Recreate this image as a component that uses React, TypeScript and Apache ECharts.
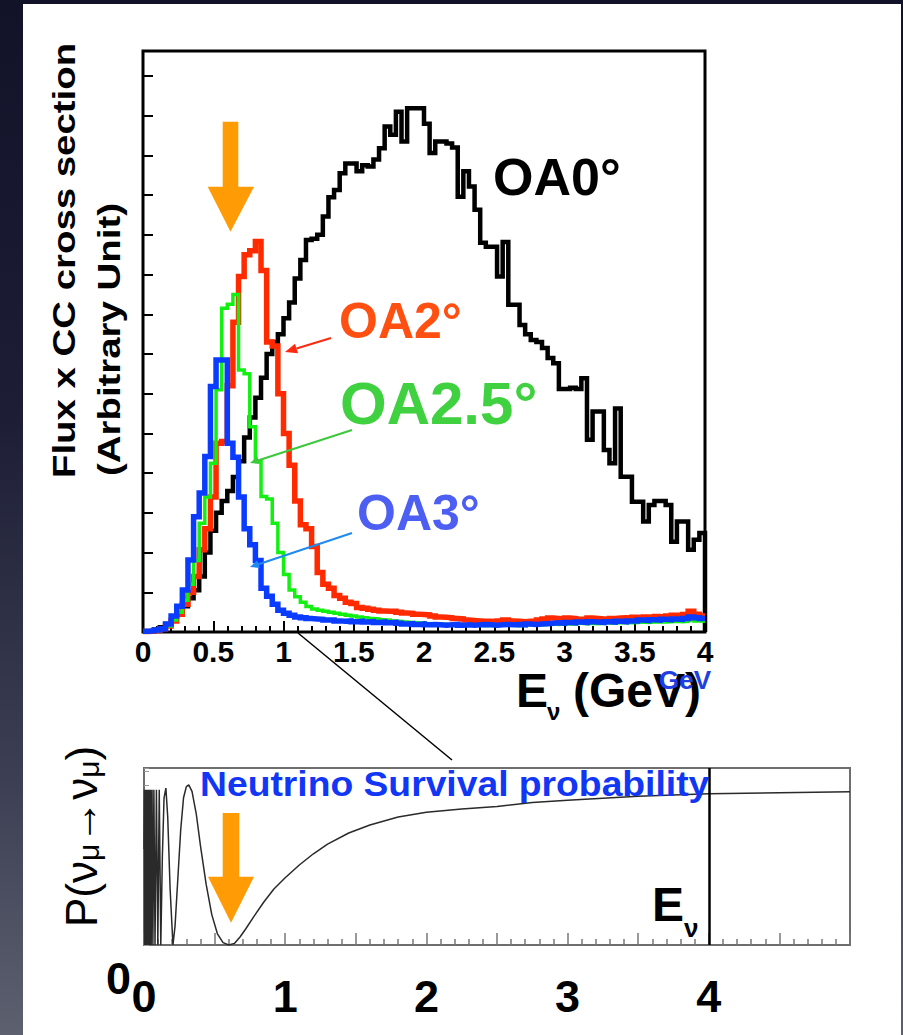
import React, { useEffect, useRef } from 'react';
import * as echarts from 'echarts';

// ---------- data ----------
const BIN_WIDTH = 0.04; // GeV per histogram bin
const E_MAX = 4.0;

// Flux x CC cross section, arbitrary units, one value per 0.04 GeV bin starting at 0
const oa0: number[] = [
  0.02, 0.03, 0.06, 0.12, 0.2, 0.32, 0.48, 0.65, 0.85, 1.05,
  1.4, 2.0, 2.55, 3.0, 3.3, 3.55, 3.9, 4.3, 4.9, 5.4,
  5.9, 6.4, 7.0, 7.3, 7.5, 7.9, 8.3, 8.9, 9.37, 9.87,
  9.9, 10.0, 10.46, 10.95, 11.13, 11.55, 11.8, 11.8, 11.6, 11.75,
  11.72, 11.9, 12.18, 12.73, 12.52, 13.1, 12.35, 13.19, 13.19, 13.19,
  12.8, 12.06, 12.35, 12.35, 12.3, 12.2, 10.96, 11.6, 11.22, 10.63,
  9.8, 9.7, 9.7, 8.95, 9.82, 8.24, 8.24, 7.73, 7.5, 7.35,
  7.3, 7.15, 6.9, 6.77, 6.12, 6.12, 6.15, 6.12, 6.39, 4.84,
  5.55, 5.55, 4.58, 4.25, 5.63, 3.91, 3.91, 3.28, 3.28, 2.78,
  3.2, 3.3, 3.3, 3.2, 2.27, 2.78, 2.78, 2.07, 2.32, 2.49,
];
const oa2: number[] = [
  0.01, 0.02, 0.04, 0.08, 0.15, 0.28, 0.45, 0.7, 1.0, 1.4,
  2.07, 2.6, 3.4, 4.75, 4.8, 6.2, 7.8, 8.95, 9.5, 9.6,
  9.83, 9.1, 7.3, 7.2, 6.0, 5.0, 4.2, 3.3, 2.7, 2.6,
  2.15, 1.5, 1.2, 1.1, 0.92, 0.85, 0.75, 0.72, 0.62, 0.6,
  0.57, 0.55, 0.53, 0.52, 0.52, 0.5, 0.48, 0.47, 0.45, 0.44,
  0.43, 0.4, 0.38, 0.37, 0.36, 0.34, 0.33, 0.3, 0.29, 0.28,
  0.27, 0.27, 0.26, 0.28, 0.3, 0.28, 0.27, 0.26, 0.27, 0.28,
  0.3, 0.33, 0.35, 0.34, 0.33, 0.35, 0.34, 0.32, 0.33, 0.35,
  0.34, 0.33, 0.32, 0.34, 0.35, 0.36, 0.35, 0.37, 0.36, 0.38,
  0.37, 0.39, 0.38, 0.4, 0.42, 0.4, 0.44, 0.52, 0.45, 0.4,
];
const oa25: number[] = [
  0.02, 0.03, 0.04, 0.07, 0.15, 0.3, 0.5, 0.8, 1.2, 1.8,
  2.74, 3.4, 4.25, 6.1, 8.15, 8.25, 8.5, 6.6, 6.5, 5.17,
  4.3, 3.41, 3.35, 2.74, 2.0, 1.45, 1.06, 0.89, 0.75, 0.64,
  0.58, 0.55, 0.52, 0.5, 0.47, 0.45, 0.42, 0.4, 0.38, 0.36,
  0.34, 0.33, 0.31, 0.3, 0.28, 0.27, 0.25, 0.24, 0.23, 0.22,
  0.21, 0.2, 0.19, 0.2, 0.18, 0.19, 0.18, 0.17, 0.18, 0.17,
  0.16, 0.17, 0.16, 0.17, 0.18, 0.17, 0.16, 0.17, 0.18, 0.17,
  0.18, 0.19, 0.2, 0.19, 0.2, 0.21, 0.2, 0.22, 0.21, 0.22,
  0.21, 0.22, 0.23, 0.22, 0.23, 0.24, 0.23, 0.24, 0.25, 0.24,
  0.25, 0.26, 0.25, 0.26, 0.27, 0.26, 0.27, 0.3, 0.28, 0.27,
];
const oa3: number[] = [
  0.02, 0.03, 0.05, 0.08, 0.2, 0.4, 0.65, 1.06, 1.81, 2.9,
  3.5, 4.42, 6.18, 6.85, 6.85, 4.75, 4.4, 3.4, 2.6, 2.2,
  1.8, 1.1, 0.9, 0.7, 0.55, 0.47, 0.42, 0.38, 0.36, 0.34,
  0.33, 0.32, 0.3, 0.3, 0.28, 0.27, 0.28, 0.26, 0.27, 0.25,
  0.26, 0.24, 0.25, 0.23, 0.24, 0.22, 0.2, 0.21, 0.19, 0.2,
  0.18, 0.19, 0.18, 0.17, 0.18, 0.19, 0.17, 0.18, 0.17, 0.18,
  0.19, 0.18, 0.17, 0.18, 0.19, 0.18, 0.19, 0.18, 0.2, 0.19,
  0.2, 0.21, 0.22, 0.23, 0.22, 0.24, 0.23, 0.25, 0.24, 0.26,
  0.25, 0.24, 0.26, 0.25, 0.27, 0.26, 0.28, 0.28, 0.3, 0.29,
  0.31, 0.3, 0.32, 0.31, 0.33, 0.32, 0.34, 0.38, 0.36, 0.34,
];

// Neutrino survival probability P(numu -> numu) vs E (GeV)
const survE: number[] = [
  0.0, 0.003, 0.005, 0.007, 0.009, 0.011, 0.013, 0.015, 0.017, 0.019,
  0.021, 0.024, 0.027, 0.03, 0.033, 0.037, 0.041, 0.046, 0.051, 0.057,
  0.063, 0.07, 0.078, 0.088, 0.098, 0.108, 0.119, 0.13, 0.142, 0.155,
  0.168, 0.185, 0.205, 0.22, 0.24, 0.26, 0.28, 0.3, 0.317, 0.34,
  0.37, 0.4, 0.44, 0.48, 0.52, 0.56, 0.6, 0.64, 0.68, 0.72,
  0.78, 0.85, 0.92, 1.0, 1.1, 1.2, 1.3, 1.45, 1.6, 1.8,
  2.0, 2.25, 2.5, 2.75, 3.0, 3.5, 4.0, 4.5, 5.0,
];
const survP: number[] = [
  0.6, 0.97, 0.0, 0.97, 0.0, 0.97, 0.0, 0.97, 0.0, 0.97,
  0.0, 0.97, 0.0, 0.97, 0.0, 0.97, 0.0, 0.97, 0.0, 0.97,
  0.0, 0.97, 0.0, 0.97, 0.0, 0.97, 0.0, 0.55, 0.92, 0.98,
  0.8, 0.35, 0.0, 0.12, 0.42, 0.72, 0.92, 0.99, 1.0, 0.96,
  0.82, 0.62, 0.38, 0.19, 0.07, 0.015, 0.0, 0.01, 0.05, 0.1,
  0.18, 0.27, 0.35, 0.42, 0.5, 0.57, 0.63, 0.7, 0.75, 0.8,
  0.83, 0.85, 0.865, 0.89, 0.905, 0.93, 0.945, 0.952, 0.957,
];

const topTickStep = 0.5;
const bottomTickStep = 0.5;
const bottomLabelValues = [0, 1, 2, 3, 4];
const markerEnergy = 4; // vertical E_nu marker in lower plot

// ---------- helpers ----------
function histPoints(vals: number[], dropToZero: boolean): number[][] {
  const pts: number[][] = vals.map((v, i) => [Number((i * BIN_WIDTH).toFixed(3)), v]);
  pts.push([E_MAX, vals[vals.length - 1]]);
  if (dropToZero) pts.push([E_MAX, 0]);
  return pts;
}

const FONT = "'Liberation Sans', Arial, Helvetica, sans-serif";
const NARROW = "'Liberation Sans Narrow', 'Arial Narrow', 'Liberation Sans', Arial, sans-serif";

function txt(x: number, y: number, text: string, size: number, fill: string, extra: any = {}) {
  const { align = 'left', weight = 'bold', rotation = 0, scaleX = 1, scaleY = 1, family = FONT, rich, lineHeight } = extra;
  return {
    type: 'text',
    x,
    y,
    rotation,
    scaleX,
    scaleY,
    z: 20,
    style: {
      text,
      fill,
      fontSize: size,
      fontWeight: weight,
      fontFamily: family,
      align,
      verticalAlign: 'middle',
      lineHeight,
      rich,
    },
  };
}

function arrowHead(points: number[][], color: string) {
  return { type: 'polygon', z: 20, shape: { points }, style: { fill: color } };
}

function seg(x1: number, y1: number, x2: number, y2: number, color: string, w: number) {
  return { type: 'line', z: 20, shape: { x1, y1, x2, y2 }, style: { stroke: color, lineWidth: w } };
}

export default function App() {
  const ref = useRef<HTMLDivElement>(null);

  useEffect(() => {
    if (!ref.current) return;
    const chart = echarts.init(ref.current, undefined, { renderer: 'svg' });
    const ORANGE = '#FF9B05';

    const histSeries = (name: string, vals: number[], color: string, width: number, drop: boolean) => ({
      name,
      type: 'line',
      xAxisIndex: 0,
      yAxisIndex: 0,
      step: 'end',
      symbol: 'none',
      data: histPoints(vals, drop),
      lineStyle: { color, width, join: 'miter' },
      silent: true,
    });

    const option: any = {
      animation: false,
      backgroundColor: 'transparent',
      grid: [
        { left: 143, top: 51, width: 562, height: 581, show: true, borderColor: '#000', borderWidth: 3, backgroundColor: 'transparent' },
        { left: 144, top: 768, width: 706, height: 177, show: true, borderColor: '#6e6e6e', borderWidth: 2, backgroundColor: 'transparent' },
      ],
      xAxis: [
        {
          type: 'value',
          gridIndex: 0,
          min: 0,
          max: E_MAX,
          interval: topTickStep,
          axisLine: { show: false },
          splitLine: { show: false },
          axisTick: { show: true, inside: true, length: 11, lineStyle: { color: '#000', width: 2 } },
          minorTick: { show: true, splitNumber: 5, length: 6, lineStyle: { color: '#000', width: 2 } },
          axisLabel: { show: true, margin: 7, lineHeight: 24, color: '#000', fontSize: 30, fontWeight: 'bold', fontFamily: NARROW },
        },
        {
          type: 'value',
          gridIndex: 1,
          min: 0,
          max: 5,
          interval: bottomTickStep,
          axisLine: { show: false },
          splitLine: { show: false },
          axisTick: { show: true, inside: true, length: 12, lineStyle: { color: '#777', width: 1.5 } },
          minorTick: { show: true, splitNumber: 5, length: 6, lineStyle: { color: '#777', width: 1.5 } },
          axisLabel: {
            show: true,
            margin: 29,
            color: '#000',
            fontSize: 45,
            fontWeight: 'bold',
            fontFamily: FONT,
            formatter: (v: number) => (bottomLabelValues.includes(v) ? String(v) : ''),
          },
        },
      ],
      yAxis: [
        {
          type: 'value',
          gridIndex: 0,
          min: 0,
          max: 14.63,
          interval: 1,
          axisLine: { show: false },
          splitLine: { show: false },
          axisTick: { show: true, inside: true, length: 10, lineStyle: { color: '#000', width: 2 } },
          axisLabel: { show: false },
        },
        {
          type: 'value',
          gridIndex: 1,
          min: 0,
          max: 1.106,
          interval: 1 / 12,
          axisLine: { show: false },
          splitLine: { show: false },
          axisTick: { show: true, inside: true, length: 5, lineStyle: { color: '#999', width: 1 } },
          axisLabel: { show: false },
        },
      ],
      series: [
        histSeries('OA0°', oa0, '#000000', 4.5, true),
        histSeries('OA2°', oa2, '#FF2A00', 5.5, false),
        histSeries('OA2.5°', oa25, '#12F012', 3.5, false),
        histSeries('OA3°', oa3, '#0A3CFF', 5.5, false),
        {
          name: 'P(numu->numu)',
          type: 'line',
          xAxisIndex: 1,
          yAxisIndex: 1,
          symbol: 'none',
          data: survE.map((e, i) => [e, survP[i]]),
          lineStyle: { color: '#2a2a2a', width: 1.5 },
          silent: true,
          markLine: {
            silent: true,
            symbol: ['none', 'none'],
            label: { show: false },
            lineStyle: { color: '#000', width: 2.5, type: 'solid' },
            data: [{ xAxis: markerEnergy }],
          },
        },
      ],
      graphic: [
        // y-axis title of upper plot (rotated, stretched along its length)
        txt(64, 478, 'Flux x CC cross section', 32, '#000', { rotation: Math.PI / 2, scaleX: 1.2 }),
        txt(109, 476, '(Arbitrary Unit)', 32, '#000', { rotation: Math.PI / 2, scaleX: 1.2 }),
        // orange arrow (upper)
        {
          type: 'polygon', z: 20,
          shape: { points: [[222.7, 121.7], [238.3, 121.7], [238.3, 186.7], [254, 186.7], [230.5, 231.7], [207.7, 186.7], [222.7, 186.7]] },
          style: { fill: ORANGE },
        },
        // series labels
        txt(493, 177, 'OA0°', 52, '#000'),
        txt(339, 321, 'OA2°', 50, '#FF5012'),
        txt(340, 403, 'OA2.5°', 60, '#3FD13F'),
        txt(357, 513, 'OA3°', 50, '#4D5EF2'),
        // pointer arrows
        seg(331, 338, 296.5, 348.5, '#FF2A10', 2),
        arrowHead([[285, 352], [298, 353.3], [295, 343.7]], '#FF2A10'),
        seg(352, 430, 258.6, 460.2, '#3CC83C', 2),
        arrowHead([[250, 463], [259.8, 464], [257.4, 456.4]], '#3CC83C'),
        seg(352, 533, 258.5, 564.2, '#1E8AF0', 2),
        arrowHead([[250, 567], [259.8, 568], [257.2, 560.4]], '#1E8AF0'),
        // x-axis title of upper plot
        txt(516, 690, 'E', 48, '#000', { lineHeight: 38 }),
        txt(547, 711, 'ν', 24, '#000'),
        txt(573, 690, '(GeV)', 48, '#000', { lineHeight: 38 }),
        txt(659, 680, 'GeV', 26, '#1F3FE0'),
        // connector line
        seg(298, 633, 452, 760, '#000', 1.5),
        // lower plot annotations
        txt(200, 784, 'Neutrino Survival probability', 35, '#1236F5', { scaleX: 1.065 }),
        {
          type: 'polygon', z: 20,
          shape: { points: [[222.7, 813], [239.3, 813], [239.3, 876.7], [254, 876.7], [231, 922.7], [208, 876.7], [222.7, 876.7]] },
          style: { fill: ORANGE },
        },
        txt(652, 904.5, 'E', 48, '#000'),
        txt(684, 928, 'ν', 26, '#000'),
        txt(118.5, 978.5, '0', 45, '#000', { align: 'center' }),
        txt(81, 927, '{a|P(ν}{b|μ}{a|→ν}{b|μ}{a|)}', 44, '#000', {
          rotation: Math.PI / 2,
          weight: 'normal',
          rich: {
            a: { fontSize: 44, fontFamily: FONT, fill: '#000', verticalAlign: 'bottom' },
            b: { fontSize: 30, fontFamily: FONT, fill: '#000', verticalAlign: 'bottom' },
          },
        }),
      ],
    };

    chart.setOption(option);
    return () => chart.dispose();
  }, []);

  return (
    <div
      style={{
        position: 'fixed',
        left: 0,
        top: 0,
        width: 903,
        height: 1035,
        overflow: 'hidden',
        background: 'linear-gradient(180deg, #121229 0%, #1d1e36 40%, #3c3f53 75%, #5d606f 100%)',
      }}
    >
      <div style={{ position: 'absolute', left: 23, top: 4, width: 878, height: 1031, background: '#ffffff' }} />
      <div ref={ref} style={{ position: 'absolute', left: 0, top: 0, width: 903, height: 1035 }} />
    </div>
  );
}
